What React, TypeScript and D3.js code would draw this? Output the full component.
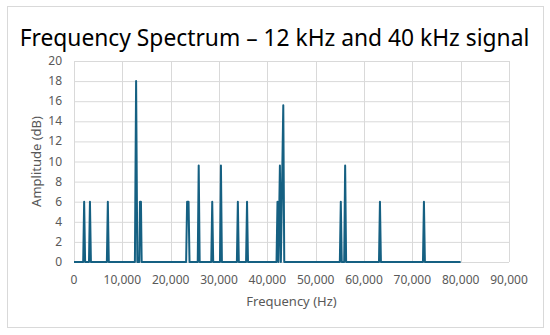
import * as d3 from "d3";

// spectrum samples (Hz, dB)
const freqHz = [
  0,
  1900, 2100, 2300,
  3100, 3300, 3500,
  6800, 7000, 7200,
  12600, 12850, 13100,
  13500, 13650, 13850, 14000,
  23200, 23400, 23700, 23900,
  25600, 25800, 26000,
  28400, 28600, 28800,
  30200, 30400, 30600,
  33700, 33900, 34100,
  35600, 35800, 36000,
  41900, 42100, 42300, 42600, 42800, 43300, 43500,
  55000, 55200, 55400,
  55900, 56100, 56300,
  63100, 63300, 63500,
  72200, 72400, 72600,
  80000,
];
const amplitudeDb = [
  0,
  0, 6, 0,
  0, 6, 0,
  0, 6, 0,
  0, 18, 0,
  0, 6, 6, 0,
  0, 6, 6, 0,
  0, 9.6, 0,
  0, 6, 0,
  0, 9.6, 0,
  0, 6, 0,
  0, 6, 0,
  0, 6, 0, 9.6, 0, 15.6, 0,
  0, 6, 0,
  0, 9.6, 0,
  0, 6, 0,
  0, 6, 0,
  0,
];
const xTicks = [0, 10000, 20000, 30000, 40000, 50000, 60000, 70000, 80000, 90000];
const yTicks = [0, 2, 4, 6, 8, 10, 12, 14, 16, 18, 20];

const title = "Frequency Spectrum – 12 kHz and 40 kHz signal";
const xTitle = "Frequency (Hz)";
const yTitle = "Amplitude (dB)";

export default function App() {
  const width = 550,
    height = 335;
  const left = 74,
    right = 509,
    top = 61,
    bottom = 262;

  const x = d3.scaleLinear().domain([0, 90000]).range([left, right]);
  const y = d3.scaleLinear().domain([0, 20]).range([bottom, top]);

  const pts = freqHz.map((f, i) => [f, amplitudeDb[i]] as [number, number]);
  const line = d3
    .line<[number, number]>()
    .x((d) => x(d[0]))
    .y((d) => y(d[1]));

  const fmt = d3.format(",");
  const font = "'Noto Sans', sans-serif";
  const grid = "#d9d9d9";
  const txt = "#595959";

  return (
    <svg
      width={width}
      height={height}
      style={{ position: "absolute", left: 0, top: 0, background: "#fff" }}
    >
      <rect x={7.5} y={6.5} width={536} height={321} fill="#fff" stroke={grid} />
      <text x={274.5} y={46} textAnchor="middle" fontFamily={font} fontSize={22.8} fill="#000">
        {title}
      </text>

      {yTicks.map((t) => (
        <g key={"y" + t}>
          <line x1={left} x2={right} y1={y(t) + 0.5} y2={y(t) + 0.5} stroke={grid} />
          <text x={62} y={y(t) + 4} textAnchor="end" fontFamily={font} fontSize={12} fill={txt}>
            {t}
          </text>
        </g>
      ))}
      {xTicks.map((t) => (
        <g key={"x" + t}>
          <line x1={Math.round(x(t)) + 0.5} x2={Math.round(x(t)) + 0.5} y1={top} y2={bottom} stroke={grid} />
          <text x={x(t)} y={284} textAnchor="middle" fontFamily={font} fontSize={12} fill={txt}>
            {fmt(t)}
          </text>
        </g>
      ))}

      <path d={line(pts) ?? ""} fill="none" stroke="#156082" strokeWidth={2} strokeLinejoin="round" />

      <text x={(left + right) / 2} y={306} textAnchor="middle" fontFamily={font} fontSize={13} fill={txt}>
        {xTitle}
      </text>
      <text
        transform={`translate(41, ${(top + bottom) / 2}) rotate(-90)`}
        textAnchor="middle"
        fontFamily={font}
        fontSize={13}
        fill={txt}
      >
        {yTitle}
      </text>
    </svg>
  );
}
